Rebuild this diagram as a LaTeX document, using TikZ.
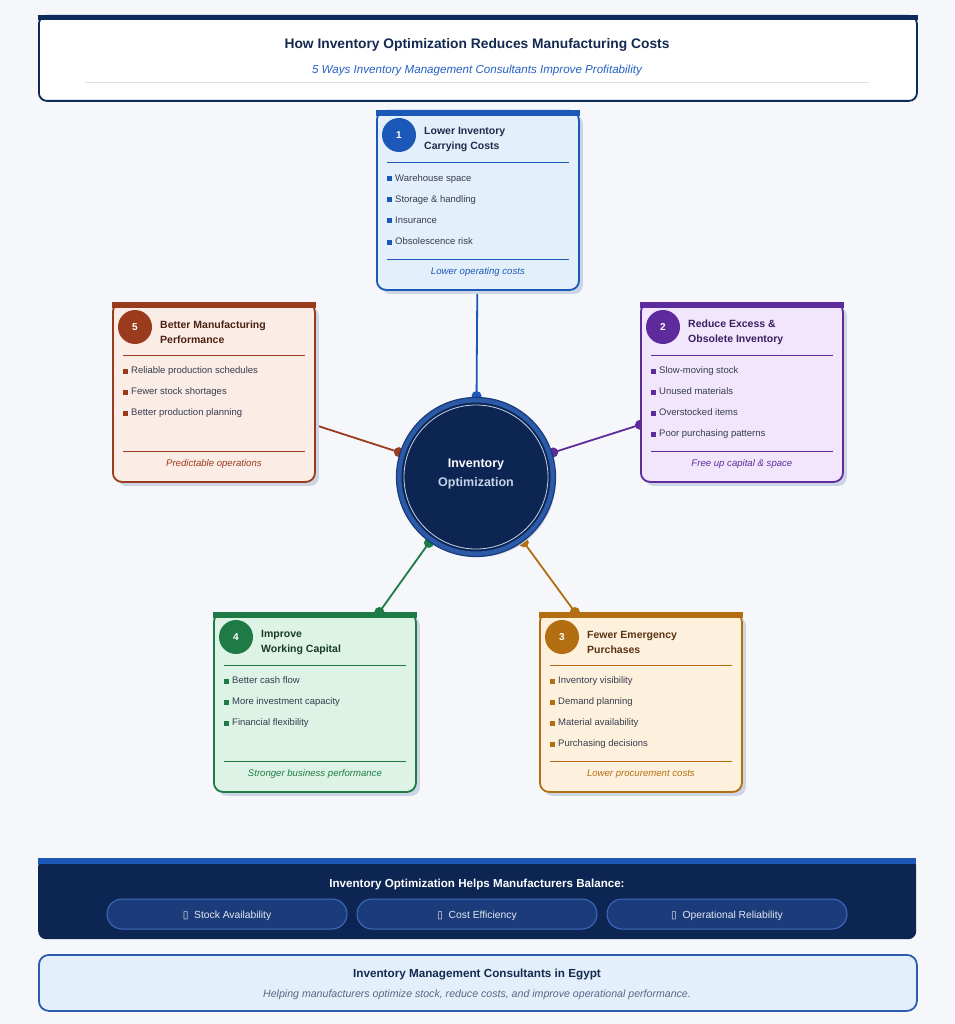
\documentclass[tikz,border=0pt]{standalone}
\usepackage{fontspec}
\setmainfont{Liberation Sans}
\newfontfamily\symfont{DejaVu Sans}
\usetikzlibrary{positioning}
\usetikzlibrary{shadows}

\definecolor{pagebg}{HTML}{F5F7FB}
\definecolor{navy}{HTML}{0E2A5A}
\definecolor{titletxt}{HTML}{13294F}
\definecolor{subblue}{HTML}{2561C4}
\definecolor{rulegray}{HTML}{D9DFE7}
\definecolor{shade}{HTML}{CBD5E4}
\definecolor{bodytxt}{HTML}{363C4E}
\definecolor{oneline}{HTML}{1B58B8}
\definecolor{onefill}{HTML}{E4EFFC}
\definecolor{onedark}{HTML}{1E2B4A}
\definecolor{twoline}{HTML}{5E2B9C}
\definecolor{twofill}{HTML}{F1E6FC}
\definecolor{twodark}{HTML}{3B1F62}
\definecolor{threeline}{HTML}{B36E12}
\definecolor{threefill}{HTML}{FDF1DD}
\definecolor{threedark}{HTML}{5B3311}
\definecolor{fourline}{HTML}{1F7B45}
\definecolor{fourfill}{HTML}{DDF3E6}
\definecolor{fourdark}{HTML}{183B29}
\definecolor{fiveline}{HTML}{9B3B1D}
\definecolor{fivefill}{HTML}{FBECE6}
\definecolor{fivedark}{HTML}{4B2212}
\definecolor{hubfill}{HTML}{0C2552}
\definecolor{hubring}{HTML}{2B5BA8}
\definecolor{hubedge}{HTML}{1A3A78}
\definecolor{hubsub}{HTML}{C5D2E8}
\definecolor{pillfill}{HTML}{1C3B7A}
\definecolor{pillline}{HTML}{3F6CC0}
\definecolor{pilltxt}{HTML}{E3E9F4}
\definecolor{footline}{HTML}{2A5DB0}
\definecolor{footsub}{HTML}{5B6683}

\pgfdeclarelayer{bg}
\pgfdeclarelayer{links}
\pgfsetlayers{bg,links,main}

\tikzset{
  card/.style 2 args={rectangle, anchor=north west, rounded corners=9pt,
    minimum width=202pt, minimum height=179pt, line width=1.8pt, draw=#1, fill=#2,
    general shadow={fill=shade, shadow xshift=4pt, shadow yshift=-4pt}},
  num/.style={circle, fill=#1, minimum size=34pt, inner sep=0pt, text=white,
    font=\bfseries\fontsize{10}{12}\selectfont},
  ctitle/.style={anchor=west, align=left, inner sep=1pt, text=#1,
    font=\bfseries\fontsize{10.5}{15}\selectfont},
  rule/.style={draw=#1, line width=1pt},
  item/.style={anchor=west, inner sep=1pt, text=bodytxt, text height=7pt, text depth=2pt,
    font=\fontsize{9.5}{11}\selectfont,
    label={[fill=#1, minimum size=5pt, inner sep=0pt, label distance=2pt]left:{}}},
  cfoot/.style={anchor=mid, text=#1, font=\itshape\fontsize{9.6}{11}\selectfont},
  link/.style={draw=#1, line width=1.8pt},
  dot/.style={circle, fill=#1, minimum size=10pt, inner sep=0pt},
  pill/.style={rectangle, rounded corners=15pt, minimum width=240pt, minimum height=30pt,
    fill=pillfill, draw=pillline, line width=1pt},
  pilltext/.style={anchor=mid, text=pilltxt, font=\fontsize{10.3}{12}\selectfont},
}

\begin{document}
\begin{tikzpicture}[x=1pt,y=-1pt]
\useasboundingbox (0,0) rectangle (954,1024);
\begin{pgfonlayer}{bg}
\fill[pagebg] (0,0) rectangle (954,1024);
\end{pgfonlayer}

% header
\node[rectangle, anchor=north west, rounded corners=8pt, minimum width=878pt, minimum height=85pt,
  fill=white, draw=navy, line width=1.8pt] (header) at (38,15) {};
\fill[navy] (header.north west) rectangle ([yshift=-5pt]header.north east);
\node[anchor=mid, text=titletxt, font=\bfseries\fontsize{13.8}{15}\selectfont] (headtitle) at (477,45.5)
  {How Inventory Optimization Reduces Manufacturing Costs};
\node[anchor=mid, text=subblue, font=\itshape\fontsize{11.6}{13}\selectfont] (headsub) at (477,70.5)
  {5 Ways Inventory Management Consultants Improve Profitability};
\draw[rulegray, line width=1pt] (85,83) -- (869,83);

% hub
\node[circle, minimum size=154pt, inner sep=0pt, outer sep=4pt, fill=hubfill, draw=hubring,
  line width=5pt, general shadow={fill=shade, shadow xshift=3pt, shadow yshift=-3pt}] (hub) at (476,477) {};
\draw[hubedge, line width=1.2pt] (hub.center) circle (79.5);
\draw[hubsub, line width=0.8pt] (hub.center) circle (72);
\node[align=center, text=white, font=\bfseries\fontsize{12.5}{19}\selectfont] (hubtext) at (476,474)
  {Inventory\\\textcolor{hubsub}{Optimization}};

% card 1
\node[card={oneline}{onefill}] (c1) at (376,110) {};
\fill[oneline] (c1.north west) rectangle ([yshift=-6pt]c1.north east);
\node[num=oneline] (c1n) at ([shift={(23pt,-25pt)}]c1.north west) {1};
\node[ctitle=onedark] (c1t) at ([shift={(47pt,-30pt)}]c1.north west) {Lower Inventory\\Carrying Costs};
\draw[rule=oneline] ([shift={(11pt,-53pt)}]c1.north west) -- ([shift={(-11pt,-53pt)}]c1.north east);
\node[item=oneline] (c1a) at ([shift={(18pt,-69pt)}]c1.north west) {Warehouse space};
\node[item=oneline, below=21pt of c1a.west, anchor=west] (c1b) {Storage \& handling};
\node[item=oneline, below=21pt of c1b.west, anchor=west] (c1c) {Insurance};
\node[item=oneline, below=21pt of c1c.west, anchor=west] (c1d) {Obsolescence risk};
\draw[rule=oneline] ([shift={(11pt,-149pt)}]c1.north west) -- ([shift={(-11pt,-149pt)}]c1.north east);
\node[cfoot=oneline] (c1f) at ([yshift=-162pt]c1.north) {Lower operating costs};

% card 2
\node[card={twoline}{twofill}] (c2) at (640,302) {};
\fill[twoline] (c2.north west) rectangle ([yshift=-6pt]c2.north east);
\node[num=twoline] (c2n) at ([shift={(23pt,-25pt)}]c2.north west) {2};
\node[ctitle=twodark] (c2t) at ([shift={(47pt,-30pt)}]c2.north west) {Reduce Excess \&\\Obsolete Inventory};
\draw[rule=twoline] ([shift={(11pt,-53pt)}]c2.north west) -- ([shift={(-11pt,-53pt)}]c2.north east);
\node[item=twoline] (c2a) at ([shift={(18pt,-69pt)}]c2.north west) {Slow-moving stock};
\node[item=twoline, below=21pt of c2a.west, anchor=west] (c2b) {Unused materials};
\node[item=twoline, below=21pt of c2b.west, anchor=west] (c2c) {Overstocked items};
\node[item=twoline, below=21pt of c2c.west, anchor=west] (c2d) {Poor purchasing patterns};
\draw[rule=twoline] ([shift={(11pt,-149pt)}]c2.north west) -- ([shift={(-11pt,-149pt)}]c2.north east);
\node[cfoot=twoline] (c2f) at ([yshift=-162pt]c2.north) {Free up capital \& space};

% card 3
\node[card={threeline}{threefill}] (c3) at (539,612) {};
\fill[threeline] (c3.north west) rectangle ([yshift=-6pt]c3.north east);
\node[num=threeline] (c3n) at ([shift={(23pt,-25pt)}]c3.north west) {3};
\node[ctitle=threedark] (c3t) at ([shift={(47pt,-30pt)}]c3.north west) {Fewer Emergency\\Purchases};
\draw[rule=threeline] ([shift={(11pt,-53pt)}]c3.north west) -- ([shift={(-11pt,-53pt)}]c3.north east);
\node[item=threeline] (c3a) at ([shift={(18pt,-69pt)}]c3.north west) {Inventory visibility};
\node[item=threeline, below=21pt of c3a.west, anchor=west] (c3b) {Demand planning};
\node[item=threeline, below=21pt of c3b.west, anchor=west] (c3c) {Material availability};
\node[item=threeline, below=21pt of c3c.west, anchor=west] (c3d) {Purchasing decisions};
\draw[rule=threeline] ([shift={(11pt,-149pt)}]c3.north west) -- ([shift={(-11pt,-149pt)}]c3.north east);
\node[cfoot=threeline] (c3f) at ([yshift=-162pt]c3.north) {Lower procurement costs};

% card 4
\node[card={fourline}{fourfill}] (c4) at (213,612) {};
\fill[fourline] (c4.north west) rectangle ([yshift=-6pt]c4.north east);
\node[num=fourline] (c4n) at ([shift={(23pt,-25pt)}]c4.north west) {4};
\node[ctitle=fourdark] (c4t) at ([shift={(47pt,-30pt)}]c4.north west) {Improve\\Working Capital};
\draw[rule=fourline] ([shift={(11pt,-53pt)}]c4.north west) -- ([shift={(-11pt,-53pt)}]c4.north east);
\node[item=fourline] (c4a) at ([shift={(18pt,-69pt)}]c4.north west) {Better cash flow};
\node[item=fourline, below=21pt of c4a.west, anchor=west] (c4b) {More investment capacity};
\node[item=fourline, below=21pt of c4b.west, anchor=west] (c4c) {Financial flexibility};
\draw[rule=fourline] ([shift={(11pt,-149pt)}]c4.north west) -- ([shift={(-11pt,-149pt)}]c4.north east);
\node[cfoot=fourline] (c4f) at ([yshift=-162pt]c4.north) {Stronger business performance};

% card 5
\node[card={fiveline}{fivefill}] (c5) at (112,302) {};
\fill[fiveline] (c5.north west) rectangle ([yshift=-6pt]c5.north east);
\node[num=fiveline] (c5n) at ([shift={(23pt,-25pt)}]c5.north west) {5};
\node[ctitle=fivedark] (c5t) at ([shift={(47pt,-30pt)}]c5.north west) {Better Manufacturing\\Performance};
\draw[rule=fiveline] ([shift={(11pt,-53pt)}]c5.north west) -- ([shift={(-11pt,-53pt)}]c5.north east);
\node[item=fiveline] (c5a) at ([shift={(18pt,-69pt)}]c5.north west) {Reliable production schedules};
\node[item=fiveline, below=21pt of c5a.west, anchor=west] (c5b) {Fewer stock shortages};
\node[item=fiveline, below=21pt of c5b.west, anchor=west] (c5c) {Better production planning};
\draw[rule=fiveline] ([shift={(11pt,-149pt)}]c5.north west) -- ([shift={(-11pt,-149pt)}]c5.north east);
\node[cfoot=fiveline] (c5f) at ([yshift=-162pt]c5.north) {Predictable operations};

% links behind the cards
\begin{pgfonlayer}{links}
\draw[link=oneline] (c1) -- (hub) node[dot=oneline, pos=1] {};
\draw[link=twoline] (c2) -- (hub) node[dot=twoline, pos=0] {} node[dot=twoline, pos=1] {};
\draw[link=threeline] (c3) -- (hub) node[dot=threeline, pos=0] {} node[dot=threeline, pos=1] {};
\draw[link=fourline] (c4) -- (hub) node[dot=fourline, pos=0] {} node[dot=fourline, pos=1] {};
\draw[link=fiveline] (c5) -- (hub) node[dot=fiveline, pos=1] {};
\end{pgfonlayer}

% balance band
\node[rectangle, anchor=north west, rounded corners=8pt, minimum width=878pt, minimum height=81pt,
  fill=hubfill] (band) at (38,858) {};
\fill[oneline] (band.north west) rectangle ([yshift=-6pt]band.north east);
\node[anchor=mid, text=white, font=\bfseries\fontsize{11.6}{13}\selectfont] (bandtitle) at (477,884.5)
  {Inventory Optimization Helps Manufacturers Balance:};
\node[pill] (pill1) at (227,914) {};
\node[pill] (pill2) at (477,914) {};
\node[pill] (pill3) at (727,914) {};
\node[pilltext] (pill1t) at ([yshift=-1.5pt]pill1.center) {{\symfont ▯}\ \ Stock Availability};
\node[pilltext] (pill2t) at ([yshift=-1.5pt]pill2.center) {{\symfont ▯}\ \ Cost Efficiency};
\node[pilltext] (pill3t) at ([yshift=-1.5pt]pill3.center) {{\symfont ▯}\ \ Operational Reliability};

% footer
\node[rectangle, anchor=north west, rounded corners=10pt, minimum width=878pt, minimum height=56pt,
  fill=onefill, draw=footline, line width=1.8pt] (foot) at (38,954) {};
\node[anchor=mid, text=titletxt, font=\bfseries\fontsize{11.7}{13}\selectfont] (foottitle) at (477,974.5)
  {Inventory Management Consultants in Egypt};
\node[anchor=mid, text=footsub, font=\itshape\fontsize{10.6}{12}\selectfont] (footsub) at (477,994.5)
  {Helping manufacturers optimize stock, reduce costs, and improve operational performance.};
\end{tikzpicture}
\end{document}
